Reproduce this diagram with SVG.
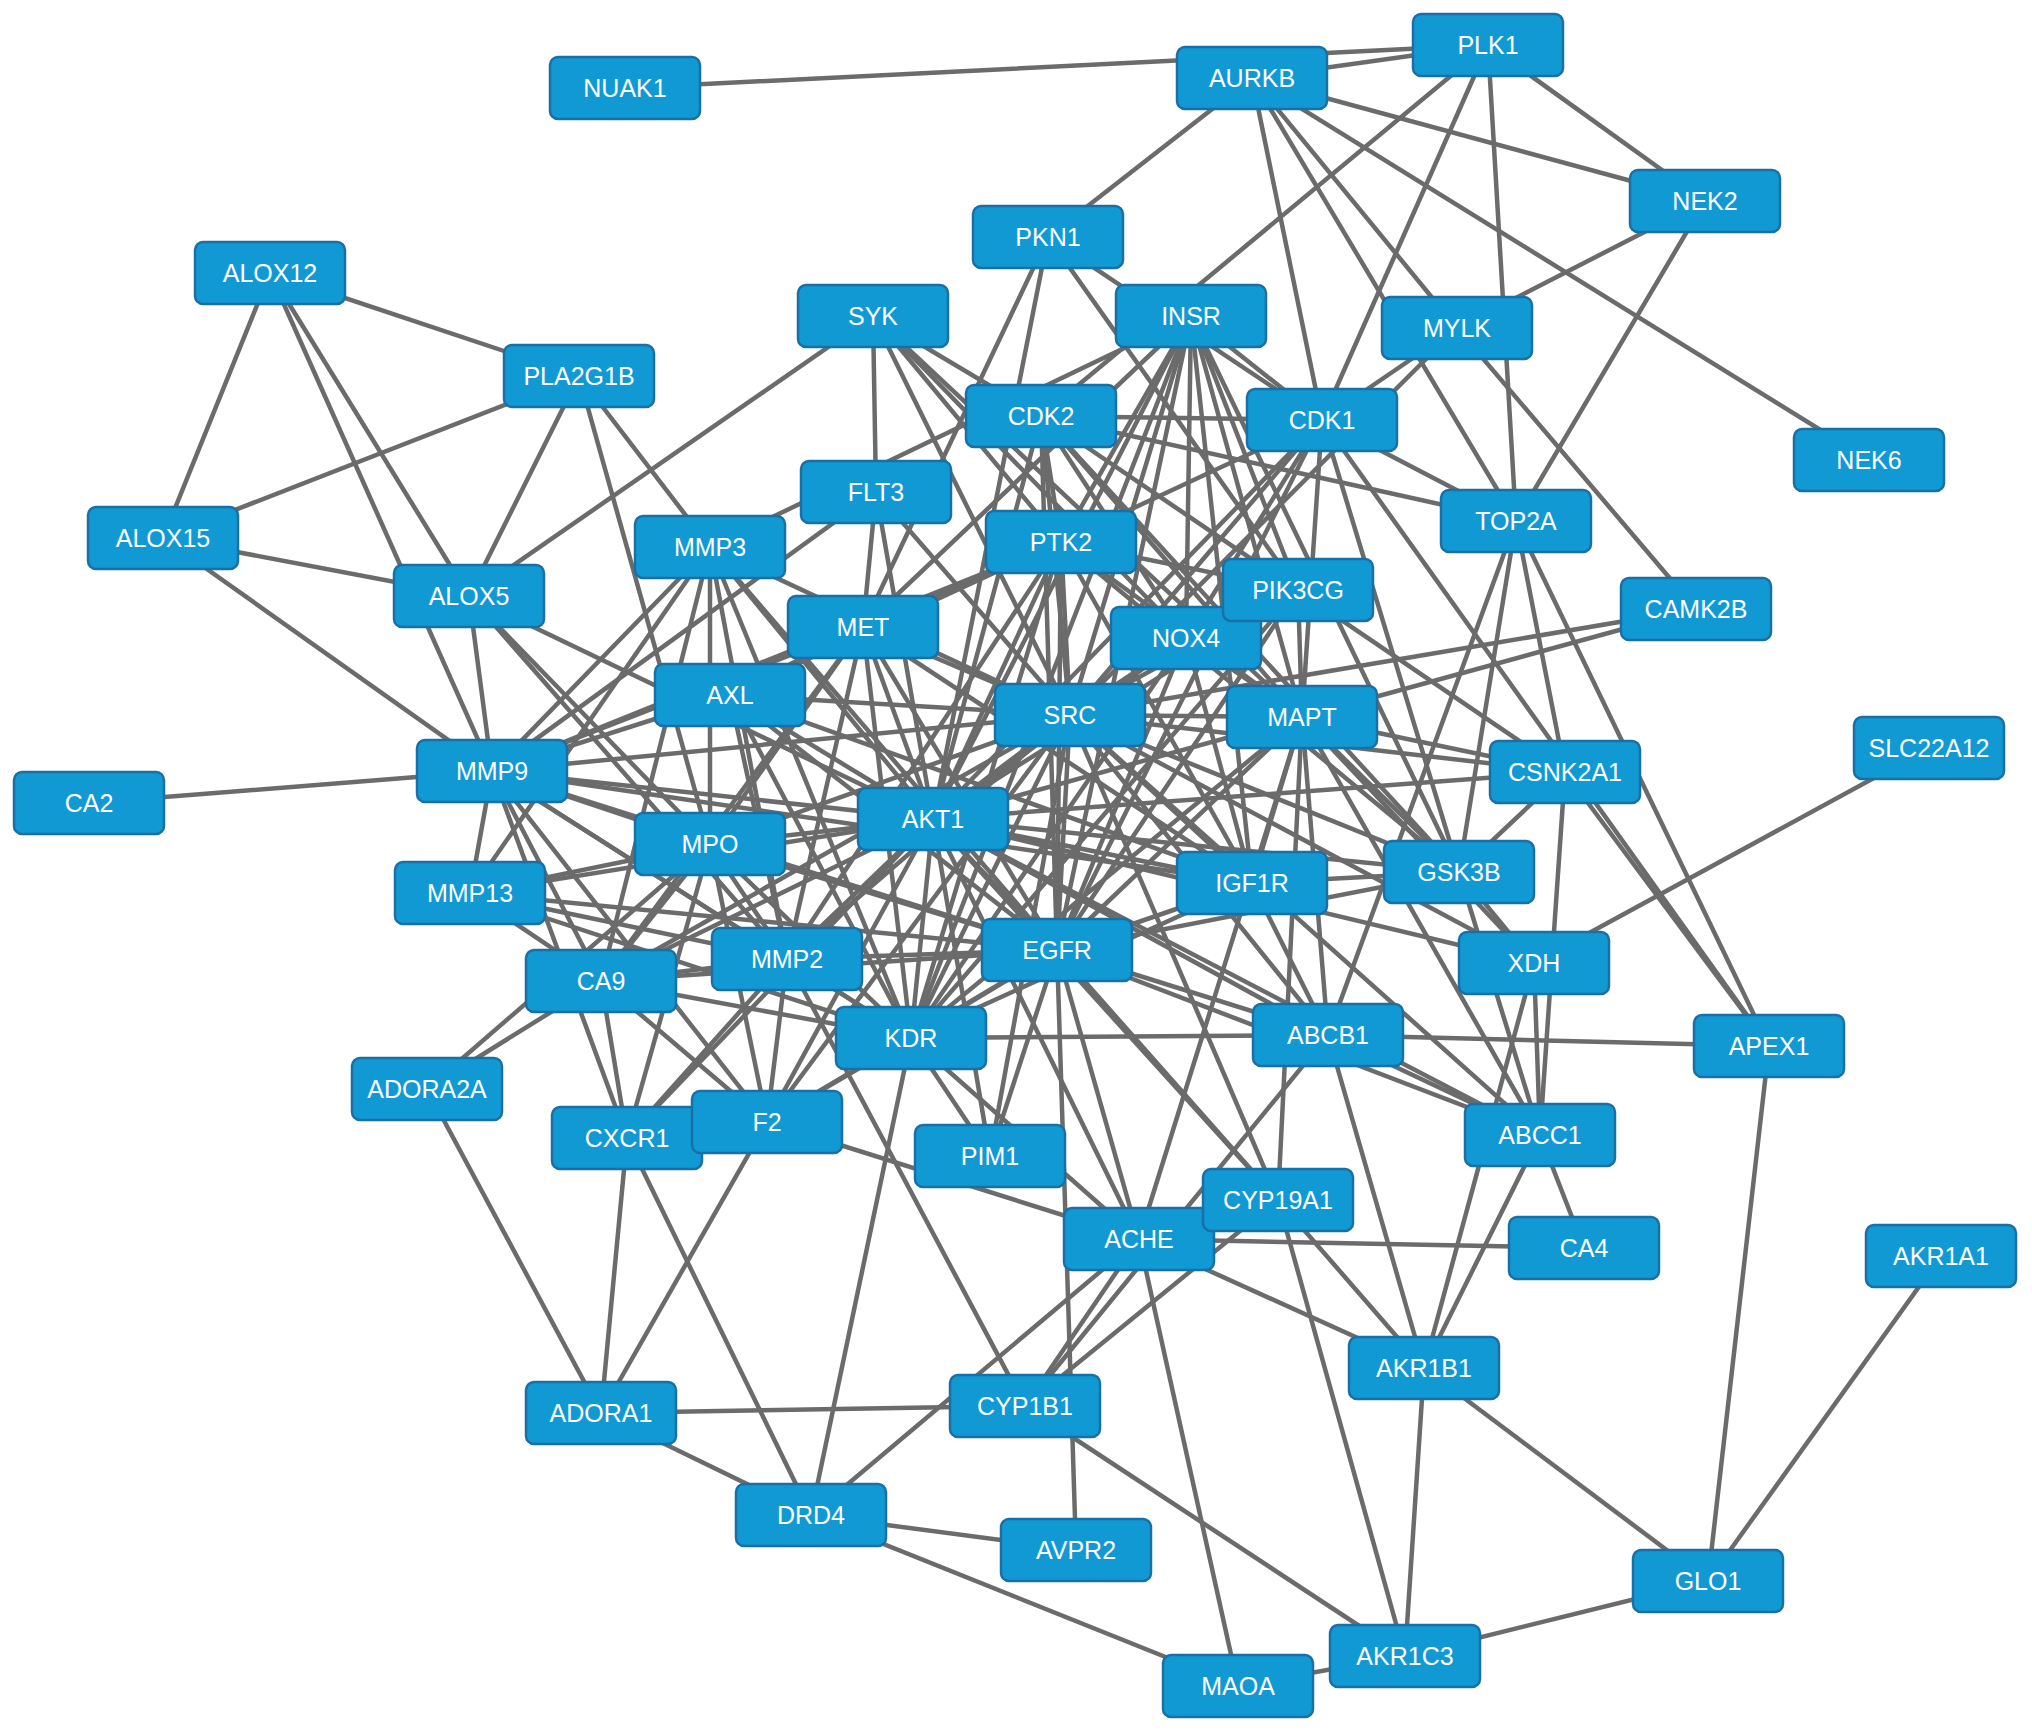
<svg xmlns="http://www.w3.org/2000/svg" width="2032" height="1731" viewBox="0 0 2032 1731">
<style>
.n rect{fill:#1199d4;stroke:#1a6fa5;stroke-width:2.5}
.n text{fill:#ffffff;font-family:"Liberation Sans",Arial,sans-serif;font-size:25px;text-anchor:middle}
#edges line{stroke:#6b6b6b;stroke-width:4.5;stroke-linecap:round}
</style>
<rect x="0" y="0" width="2032" height="1731" fill="#ffffff"/>
<g id="edges">
<line x1="625" y1="88" x2="1488" y2="45"/>
<line x1="1252" y1="78" x2="1488" y2="45"/>
<line x1="1488" y1="45" x2="1705" y2="201"/>
<line x1="1488" y1="45" x2="1516" y2="521"/>
<line x1="1488" y1="45" x2="1322" y2="420"/>
<line x1="1488" y1="45" x2="1041" y2="416"/>
<line x1="1252" y1="78" x2="1705" y2="201"/>
<line x1="1252" y1="78" x2="1869" y2="460"/>
<line x1="1252" y1="78" x2="1322" y2="420"/>
<line x1="1252" y1="78" x2="1457" y2="328"/>
<line x1="1252" y1="78" x2="1516" y2="521"/>
<line x1="1252" y1="78" x2="1048" y2="237"/>
<line x1="1457" y1="328" x2="1705" y2="201"/>
<line x1="1705" y1="201" x2="1516" y2="521"/>
<line x1="1457" y1="328" x2="1696" y2="609"/>
<line x1="1457" y1="328" x2="1322" y2="420"/>
<line x1="1457" y1="328" x2="1070" y2="715"/>
<line x1="1322" y1="420" x2="1516" y2="521"/>
<line x1="1041" y1="416" x2="1516" y2="521"/>
<line x1="1041" y1="416" x2="1322" y2="420"/>
<line x1="1191" y1="316" x2="1322" y2="420"/>
<line x1="1322" y1="420" x2="1302" y2="717"/>
<line x1="1322" y1="420" x2="1769" y2="1046"/>
<line x1="1516" y1="521" x2="1769" y2="1046"/>
<line x1="1516" y1="521" x2="1565" y2="772"/>
<line x1="1516" y1="521" x2="1459" y2="872"/>
<line x1="1516" y1="521" x2="1328" y2="1035"/>
<line x1="1696" y1="609" x2="1070" y2="715"/>
<line x1="1696" y1="609" x2="1302" y2="717"/>
<line x1="1048" y1="237" x2="933" y2="819"/>
<line x1="1048" y1="237" x2="1298" y2="590"/>
<line x1="1048" y1="237" x2="1322" y2="420"/>
<line x1="1048" y1="237" x2="863" y2="627"/>
<line x1="270" y1="273" x2="579" y2="376"/>
<line x1="270" y1="273" x2="163" y2="538"/>
<line x1="270" y1="273" x2="469" y2="596"/>
<line x1="270" y1="273" x2="492" y2="771"/>
<line x1="163" y1="538" x2="579" y2="376"/>
<line x1="163" y1="538" x2="469" y2="596"/>
<line x1="163" y1="538" x2="492" y2="771"/>
<line x1="579" y1="376" x2="469" y2="596"/>
<line x1="579" y1="376" x2="710" y2="844"/>
<line x1="579" y1="376" x2="710" y2="547"/>
<line x1="469" y1="596" x2="873" y2="316"/>
<line x1="469" y1="596" x2="492" y2="771"/>
<line x1="469" y1="596" x2="933" y2="819"/>
<line x1="469" y1="596" x2="710" y2="844"/>
<line x1="469" y1="596" x2="787" y2="959"/>
<line x1="873" y1="316" x2="876" y2="492"/>
<line x1="873" y1="316" x2="1041" y2="416"/>
<line x1="873" y1="316" x2="1061" y2="542"/>
<line x1="873" y1="316" x2="1070" y2="715"/>
<line x1="873" y1="316" x2="1186" y2="638"/>
<line x1="873" y1="316" x2="1302" y2="717"/>
<line x1="876" y1="492" x2="863" y2="627"/>
<line x1="876" y1="492" x2="933" y2="819"/>
<line x1="876" y1="492" x2="1070" y2="715"/>
<line x1="876" y1="492" x2="492" y2="771"/>
<line x1="710" y1="547" x2="492" y2="771"/>
<line x1="710" y1="547" x2="470" y2="893"/>
<line x1="710" y1="547" x2="710" y2="844"/>
<line x1="710" y1="547" x2="787" y2="959"/>
<line x1="710" y1="547" x2="601" y2="981"/>
<line x1="710" y1="547" x2="933" y2="819"/>
<line x1="710" y1="547" x2="1070" y2="715"/>
<line x1="710" y1="547" x2="1057" y2="950"/>
<line x1="710" y1="547" x2="911" y2="1038"/>
<line x1="710" y1="547" x2="1191" y2="316"/>
<line x1="710" y1="844" x2="492" y2="771"/>
<line x1="710" y1="844" x2="470" y2="893"/>
<line x1="710" y1="844" x2="787" y2="959"/>
<line x1="710" y1="844" x2="601" y2="981"/>
<line x1="710" y1="844" x2="933" y2="819"/>
<line x1="710" y1="844" x2="1070" y2="715"/>
<line x1="710" y1="844" x2="1057" y2="950"/>
<line x1="710" y1="844" x2="911" y2="1038"/>
<line x1="710" y1="844" x2="767" y2="1122"/>
<line x1="710" y1="844" x2="627" y2="1138"/>
<line x1="710" y1="844" x2="863" y2="627"/>
<line x1="427" y1="1089" x2="710" y2="844"/>
<line x1="427" y1="1089" x2="601" y2="981"/>
<line x1="427" y1="1089" x2="601" y2="1413"/>
<line x1="730" y1="695" x2="492" y2="771"/>
<line x1="730" y1="695" x2="933" y2="819"/>
<line x1="730" y1="695" x2="1070" y2="715"/>
<line x1="730" y1="695" x2="863" y2="627"/>
<line x1="730" y1="695" x2="1057" y2="950"/>
<line x1="730" y1="695" x2="911" y2="1038"/>
<line x1="730" y1="695" x2="1061" y2="542"/>
<line x1="730" y1="695" x2="787" y2="959"/>
<line x1="730" y1="695" x2="1252" y2="883"/>
<line x1="863" y1="627" x2="492" y2="771"/>
<line x1="863" y1="627" x2="933" y2="819"/>
<line x1="863" y1="627" x2="1070" y2="715"/>
<line x1="863" y1="627" x2="1057" y2="950"/>
<line x1="863" y1="627" x2="911" y2="1038"/>
<line x1="863" y1="627" x2="1061" y2="542"/>
<line x1="863" y1="627" x2="1252" y2="883"/>
<line x1="863" y1="627" x2="787" y2="959"/>
<line x1="863" y1="627" x2="1191" y2="316"/>
<line x1="863" y1="627" x2="601" y2="981"/>
<line x1="1061" y1="542" x2="1041" y2="416"/>
<line x1="1061" y1="542" x2="1191" y2="316"/>
<line x1="1061" y1="542" x2="933" y2="819"/>
<line x1="1061" y1="542" x2="1070" y2="715"/>
<line x1="1061" y1="542" x2="1057" y2="950"/>
<line x1="1061" y1="542" x2="911" y2="1038"/>
<line x1="1061" y1="542" x2="1252" y2="883"/>
<line x1="1061" y1="542" x2="492" y2="771"/>
<line x1="1061" y1="542" x2="787" y2="959"/>
<line x1="1061" y1="542" x2="1322" y2="420"/>
<line x1="1061" y1="542" x2="1298" y2="590"/>
<line x1="1061" y1="542" x2="1302" y2="717"/>
<line x1="1061" y1="542" x2="1459" y2="872"/>
<line x1="1041" y1="416" x2="933" y2="819"/>
<line x1="1041" y1="416" x2="1070" y2="715"/>
<line x1="1041" y1="416" x2="1302" y2="717"/>
<line x1="1041" y1="416" x2="1459" y2="872"/>
<line x1="1041" y1="416" x2="1565" y2="772"/>
<line x1="1041" y1="416" x2="1186" y2="638"/>
<line x1="1041" y1="416" x2="1057" y2="950"/>
<line x1="1191" y1="316" x2="933" y2="819"/>
<line x1="1191" y1="316" x2="1070" y2="715"/>
<line x1="1191" y1="316" x2="1252" y2="883"/>
<line x1="1191" y1="316" x2="1057" y2="950"/>
<line x1="1191" y1="316" x2="1186" y2="638"/>
<line x1="1191" y1="316" x2="1298" y2="590"/>
<line x1="1191" y1="316" x2="1459" y2="872"/>
<line x1="1191" y1="316" x2="911" y2="1038"/>
<line x1="1191" y1="316" x2="1302" y2="717"/>
<line x1="1322" y1="420" x2="933" y2="819"/>
<line x1="1322" y1="420" x2="1070" y2="715"/>
<line x1="1322" y1="420" x2="1459" y2="872"/>
<line x1="1322" y1="420" x2="1186" y2="638"/>
<line x1="1322" y1="420" x2="1057" y2="950"/>
<line x1="1298" y1="590" x2="933" y2="819"/>
<line x1="1298" y1="590" x2="1070" y2="715"/>
<line x1="1298" y1="590" x2="1186" y2="638"/>
<line x1="1298" y1="590" x2="1057" y2="950"/>
<line x1="1298" y1="590" x2="1302" y2="717"/>
<line x1="1298" y1="590" x2="911" y2="1038"/>
<line x1="1186" y1="638" x2="933" y2="819"/>
<line x1="1186" y1="638" x2="1070" y2="715"/>
<line x1="1186" y1="638" x2="1057" y2="950"/>
<line x1="1186" y1="638" x2="1302" y2="717"/>
<line x1="1186" y1="638" x2="911" y2="1038"/>
<line x1="1186" y1="638" x2="1252" y2="883"/>
<line x1="1070" y1="715" x2="933" y2="819"/>
<line x1="1070" y1="715" x2="1057" y2="950"/>
<line x1="1070" y1="715" x2="911" y2="1038"/>
<line x1="1070" y1="715" x2="1252" y2="883"/>
<line x1="1070" y1="715" x2="1302" y2="717"/>
<line x1="1070" y1="715" x2="1459" y2="872"/>
<line x1="1070" y1="715" x2="1565" y2="772"/>
<line x1="1070" y1="715" x2="1328" y2="1035"/>
<line x1="1070" y1="715" x2="1540" y2="1135"/>
<line x1="1070" y1="715" x2="1534" y2="963"/>
<line x1="1070" y1="715" x2="787" y2="959"/>
<line x1="1070" y1="715" x2="767" y2="1122"/>
<line x1="1070" y1="715" x2="601" y2="981"/>
<line x1="1070" y1="715" x2="492" y2="771"/>
<line x1="1070" y1="715" x2="1278" y2="1200"/>
<line x1="1070" y1="715" x2="990" y2="1156"/>
<line x1="1302" y1="717" x2="933" y2="819"/>
<line x1="1302" y1="717" x2="1459" y2="872"/>
<line x1="1302" y1="717" x2="1565" y2="772"/>
<line x1="1302" y1="717" x2="1252" y2="883"/>
<line x1="1302" y1="717" x2="1057" y2="950"/>
<line x1="1302" y1="717" x2="1328" y2="1035"/>
<line x1="1302" y1="717" x2="1139" y2="1239"/>
<line x1="1302" y1="717" x2="1278" y2="1200"/>
<line x1="1302" y1="717" x2="911" y2="1038"/>
<line x1="1302" y1="717" x2="1540" y2="1135"/>
<line x1="1302" y1="717" x2="1534" y2="963"/>
<line x1="933" y1="819" x2="1252" y2="883"/>
<line x1="933" y1="819" x2="1459" y2="872"/>
<line x1="933" y1="819" x2="1565" y2="772"/>
<line x1="933" y1="819" x2="1057" y2="950"/>
<line x1="933" y1="819" x2="911" y2="1038"/>
<line x1="933" y1="819" x2="787" y2="959"/>
<line x1="933" y1="819" x2="601" y2="981"/>
<line x1="933" y1="819" x2="470" y2="893"/>
<line x1="933" y1="819" x2="767" y2="1122"/>
<line x1="933" y1="819" x2="627" y2="1138"/>
<line x1="933" y1="819" x2="990" y2="1156"/>
<line x1="933" y1="819" x2="1328" y2="1035"/>
<line x1="933" y1="819" x2="1540" y2="1135"/>
<line x1="933" y1="819" x2="1534" y2="963"/>
<line x1="933" y1="819" x2="1139" y2="1239"/>
<line x1="933" y1="819" x2="1278" y2="1200"/>
<line x1="933" y1="819" x2="492" y2="771"/>
<line x1="1252" y1="883" x2="1057" y2="950"/>
<line x1="1252" y1="883" x2="911" y2="1038"/>
<line x1="1252" y1="883" x2="1459" y2="872"/>
<line x1="1252" y1="883" x2="492" y2="771"/>
<line x1="1252" y1="883" x2="1328" y2="1035"/>
<line x1="1459" y1="872" x2="1565" y2="772"/>
<line x1="1459" y1="872" x2="1057" y2="950"/>
<line x1="1459" y1="872" x2="1534" y2="963"/>
<line x1="1459" y1="872" x2="1540" y2="1135"/>
<line x1="1565" y1="772" x2="1540" y2="1135"/>
<line x1="1565" y1="772" x2="1769" y2="1046"/>
<line x1="1057" y1="950" x2="492" y2="771"/>
<line x1="1057" y1="950" x2="911" y2="1038"/>
<line x1="1057" y1="950" x2="787" y2="959"/>
<line x1="1057" y1="950" x2="601" y2="981"/>
<line x1="1057" y1="950" x2="470" y2="893"/>
<line x1="1057" y1="950" x2="767" y2="1122"/>
<line x1="1057" y1="950" x2="990" y2="1156"/>
<line x1="1057" y1="950" x2="1328" y2="1035"/>
<line x1="1057" y1="950" x2="1540" y2="1135"/>
<line x1="1057" y1="950" x2="1278" y2="1200"/>
<line x1="1057" y1="950" x2="1139" y2="1239"/>
<line x1="1057" y1="950" x2="1076" y2="1550"/>
<line x1="911" y1="1038" x2="492" y2="771"/>
<line x1="911" y1="1038" x2="787" y2="959"/>
<line x1="911" y1="1038" x2="601" y2="981"/>
<line x1="911" y1="1038" x2="470" y2="893"/>
<line x1="911" y1="1038" x2="767" y2="1122"/>
<line x1="911" y1="1038" x2="990" y2="1156"/>
<line x1="911" y1="1038" x2="1328" y2="1035"/>
<line x1="911" y1="1038" x2="811" y2="1515"/>
<line x1="911" y1="1038" x2="1139" y2="1239"/>
<line x1="787" y1="959" x2="492" y2="771"/>
<line x1="787" y1="959" x2="601" y2="981"/>
<line x1="787" y1="959" x2="470" y2="893"/>
<line x1="787" y1="959" x2="767" y2="1122"/>
<line x1="787" y1="959" x2="627" y2="1138"/>
<line x1="787" y1="959" x2="1025" y2="1406"/>
<line x1="601" y1="981" x2="492" y2="771"/>
<line x1="601" y1="981" x2="470" y2="893"/>
<line x1="601" y1="981" x2="627" y2="1138"/>
<line x1="601" y1="981" x2="767" y2="1122"/>
<line x1="470" y1="893" x2="492" y2="771"/>
<line x1="767" y1="1122" x2="492" y2="771"/>
<line x1="627" y1="1138" x2="492" y2="771"/>
<line x1="767" y1="1122" x2="601" y2="1413"/>
<line x1="627" y1="1138" x2="601" y2="1413"/>
<line x1="627" y1="1138" x2="811" y2="1515"/>
<line x1="767" y1="1122" x2="1139" y2="1239"/>
<line x1="601" y1="1413" x2="1025" y2="1406"/>
<line x1="601" y1="1413" x2="811" y2="1515"/>
<line x1="811" y1="1515" x2="1139" y2="1239"/>
<line x1="811" y1="1515" x2="1076" y2="1550"/>
<line x1="811" y1="1515" x2="1238" y2="1686"/>
<line x1="1025" y1="1406" x2="1405" y2="1656"/>
<line x1="1025" y1="1406" x2="1139" y2="1239"/>
<line x1="1025" y1="1406" x2="1278" y2="1200"/>
<line x1="1139" y1="1239" x2="1238" y2="1686"/>
<line x1="1139" y1="1239" x2="1584" y2="1248"/>
<line x1="1139" y1="1239" x2="1424" y2="1368"/>
<line x1="1278" y1="1200" x2="1424" y2="1368"/>
<line x1="1278" y1="1200" x2="1405" y2="1656"/>
<line x1="1424" y1="1368" x2="1405" y2="1656"/>
<line x1="1424" y1="1368" x2="1708" y2="1581"/>
<line x1="1405" y1="1656" x2="1708" y2="1581"/>
<line x1="1405" y1="1656" x2="1238" y2="1686"/>
<line x1="1708" y1="1581" x2="1769" y2="1046"/>
<line x1="1708" y1="1581" x2="1941" y2="1256"/>
<line x1="1328" y1="1035" x2="1424" y2="1368"/>
<line x1="1424" y1="1368" x2="1534" y2="963"/>
<line x1="1424" y1="1368" x2="1540" y2="1135"/>
<line x1="1540" y1="1135" x2="1584" y2="1248"/>
<line x1="1540" y1="1135" x2="1534" y2="963"/>
<line x1="1540" y1="1135" x2="1328" y2="1035"/>
<line x1="1929" y1="748" x2="1534" y2="963"/>
<line x1="1328" y1="1035" x2="1769" y2="1046"/>
<line x1="1328" y1="1035" x2="1025" y2="1406"/>
<line x1="89" y1="803" x2="492" y2="771"/>
</g>
<g id="n-NUAK1" class="n"><rect x="550" y="57" width="150" height="62" rx="8"/><text x="625" y="97">NUAK1</text></g>
<g id="n-AURKB" class="n"><rect x="1177" y="47" width="150" height="62" rx="8"/><text x="1252" y="87">AURKB</text></g>
<g id="n-PLK1" class="n"><rect x="1413" y="14" width="150" height="62" rx="8"/><text x="1488" y="54">PLK1</text></g>
<g id="n-NEK2" class="n"><rect x="1630" y="170" width="150" height="62" rx="8"/><text x="1705" y="210">NEK2</text></g>
<g id="n-NEK6" class="n"><rect x="1794" y="429" width="150" height="62" rx="8"/><text x="1869" y="469">NEK6</text></g>
<g id="n-PKN1" class="n"><rect x="973" y="206" width="150" height="62" rx="8"/><text x="1048" y="246">PKN1</text></g>
<g id="n-ALOX12" class="n"><rect x="195" y="242" width="150" height="62" rx="8"/><text x="270" y="282">ALOX12</text></g>
<g id="n-SYK" class="n"><rect x="798" y="285" width="150" height="62" rx="8"/><text x="873" y="325">SYK</text></g>
<g id="n-INSR" class="n"><rect x="1116" y="285" width="150" height="62" rx="8"/><text x="1191" y="325">INSR</text></g>
<g id="n-MYLK" class="n"><rect x="1382" y="297" width="150" height="62" rx="8"/><text x="1457" y="337">MYLK</text></g>
<g id="n-PLA2G1B" class="n"><rect x="504" y="345" width="150" height="62" rx="8"/><text x="579" y="385">PLA2G1B</text></g>
<g id="n-CDK2" class="n"><rect x="966" y="385" width="150" height="62" rx="8"/><text x="1041" y="425">CDK2</text></g>
<g id="n-CDK1" class="n"><rect x="1247" y="389" width="150" height="62" rx="8"/><text x="1322" y="429">CDK1</text></g>
<g id="n-FLT3" class="n"><rect x="801" y="461" width="150" height="62" rx="8"/><text x="876" y="501">FLT3</text></g>
<g id="n-TOP2A" class="n"><rect x="1441" y="490" width="150" height="62" rx="8"/><text x="1516" y="530">TOP2A</text></g>
<g id="n-ALOX15" class="n"><rect x="88" y="507" width="150" height="62" rx="8"/><text x="163" y="547">ALOX15</text></g>
<g id="n-MMP3" class="n"><rect x="635" y="516" width="150" height="62" rx="8"/><text x="710" y="556">MMP3</text></g>
<g id="n-PTK2" class="n"><rect x="986" y="511" width="150" height="62" rx="8"/><text x="1061" y="551">PTK2</text></g>
<g id="n-NOX4" class="n"><rect x="1111" y="607" width="150" height="62" rx="8"/><text x="1186" y="647">NOX4</text></g>
<g id="n-PIK3CG" class="n"><rect x="1223" y="559" width="150" height="62" rx="8"/><text x="1298" y="599">PIK3CG</text></g>
<g id="n-ALOX5" class="n"><rect x="394" y="565" width="150" height="62" rx="8"/><text x="469" y="605">ALOX5</text></g>
<g id="n-CAMK2B" class="n"><rect x="1621" y="578" width="150" height="62" rx="8"/><text x="1696" y="618">CAMK2B</text></g>
<g id="n-MET" class="n"><rect x="788" y="596" width="150" height="62" rx="8"/><text x="863" y="636">MET</text></g>
<g id="n-AXL" class="n"><rect x="655" y="664" width="150" height="62" rx="8"/><text x="730" y="704">AXL</text></g>
<g id="n-SRC" class="n"><rect x="995" y="684" width="150" height="62" rx="8"/><text x="1070" y="724">SRC</text></g>
<g id="n-MAPT" class="n"><rect x="1227" y="686" width="150" height="62" rx="8"/><text x="1302" y="726">MAPT</text></g>
<g id="n-SLC22A12" class="n"><rect x="1854" y="717" width="150" height="62" rx="8"/><text x="1929" y="757">SLC22A12</text></g>
<g id="n-MMP9" class="n"><rect x="417" y="740" width="150" height="62" rx="8"/><text x="492" y="780">MMP9</text></g>
<g id="n-CSNK2A1" class="n"><rect x="1490" y="741" width="150" height="62" rx="8"/><text x="1565" y="781">CSNK2A1</text></g>
<g id="n-CA2" class="n"><rect x="14" y="772" width="150" height="62" rx="8"/><text x="89" y="812">CA2</text></g>
<g id="n-AKT1" class="n"><rect x="858" y="788" width="150" height="62" rx="8"/><text x="933" y="828">AKT1</text></g>
<g id="n-MPO" class="n"><rect x="635" y="813" width="150" height="62" rx="8"/><text x="710" y="853">MPO</text></g>
<g id="n-IGF1R" class="n"><rect x="1177" y="852" width="150" height="62" rx="8"/><text x="1252" y="892">IGF1R</text></g>
<g id="n-GSK3B" class="n"><rect x="1384" y="841" width="150" height="62" rx="8"/><text x="1459" y="881">GSK3B</text></g>
<g id="n-MMP13" class="n"><rect x="395" y="862" width="150" height="62" rx="8"/><text x="470" y="902">MMP13</text></g>
<g id="n-EGFR" class="n"><rect x="982" y="919" width="150" height="62" rx="8"/><text x="1057" y="959">EGFR</text></g>
<g id="n-MMP2" class="n"><rect x="712" y="928" width="150" height="62" rx="8"/><text x="787" y="968">MMP2</text></g>
<g id="n-XDH" class="n"><rect x="1459" y="932" width="150" height="62" rx="8"/><text x="1534" y="972">XDH</text></g>
<g id="n-CA9" class="n"><rect x="526" y="950" width="150" height="62" rx="8"/><text x="601" y="990">CA9</text></g>
<g id="n-KDR" class="n"><rect x="836" y="1007" width="150" height="62" rx="8"/><text x="911" y="1047">KDR</text></g>
<g id="n-ABCB1" class="n"><rect x="1253" y="1004" width="150" height="62" rx="8"/><text x="1328" y="1044">ABCB1</text></g>
<g id="n-APEX1" class="n"><rect x="1694" y="1015" width="150" height="62" rx="8"/><text x="1769" y="1055">APEX1</text></g>
<g id="n-ADORA2A" class="n"><rect x="352" y="1058" width="150" height="62" rx="8"/><text x="427" y="1098">ADORA2A</text></g>
<g id="n-CXCR1" class="n"><rect x="552" y="1107" width="150" height="62" rx="8"/><text x="627" y="1147">CXCR1</text></g>
<g id="n-F2" class="n"><rect x="692" y="1091" width="150" height="62" rx="8"/><text x="767" y="1131">F2</text></g>
<g id="n-PIM1" class="n"><rect x="915" y="1125" width="150" height="62" rx="8"/><text x="990" y="1165">PIM1</text></g>
<g id="n-ABCC1" class="n"><rect x="1465" y="1104" width="150" height="62" rx="8"/><text x="1540" y="1144">ABCC1</text></g>
<g id="n-ACHE" class="n"><rect x="1064" y="1208" width="150" height="62" rx="8"/><text x="1139" y="1248">ACHE</text></g>
<g id="n-CYP19A1" class="n"><rect x="1203" y="1169" width="150" height="62" rx="8"/><text x="1278" y="1209">CYP19A1</text></g>
<g id="n-CA4" class="n"><rect x="1509" y="1217" width="150" height="62" rx="8"/><text x="1584" y="1257">CA4</text></g>
<g id="n-AKR1A1" class="n"><rect x="1866" y="1225" width="150" height="62" rx="8"/><text x="1941" y="1265">AKR1A1</text></g>
<g id="n-AKR1B1" class="n"><rect x="1349" y="1337" width="150" height="62" rx="8"/><text x="1424" y="1377">AKR1B1</text></g>
<g id="n-ADORA1" class="n"><rect x="526" y="1382" width="150" height="62" rx="8"/><text x="601" y="1422">ADORA1</text></g>
<g id="n-CYP1B1" class="n"><rect x="950" y="1375" width="150" height="62" rx="8"/><text x="1025" y="1415">CYP1B1</text></g>
<g id="n-DRD4" class="n"><rect x="736" y="1484" width="150" height="62" rx="8"/><text x="811" y="1524">DRD4</text></g>
<g id="n-AVPR2" class="n"><rect x="1001" y="1519" width="150" height="62" rx="8"/><text x="1076" y="1559">AVPR2</text></g>
<g id="n-GLO1" class="n"><rect x="1633" y="1550" width="150" height="62" rx="8"/><text x="1708" y="1590">GLO1</text></g>
<g id="n-AKR1C3" class="n"><rect x="1330" y="1625" width="150" height="62" rx="8"/><text x="1405" y="1665">AKR1C3</text></g>
<g id="n-MAOA" class="n"><rect x="1163" y="1655" width="150" height="62" rx="8"/><text x="1238" y="1695">MAOA</text></g>
</svg>
